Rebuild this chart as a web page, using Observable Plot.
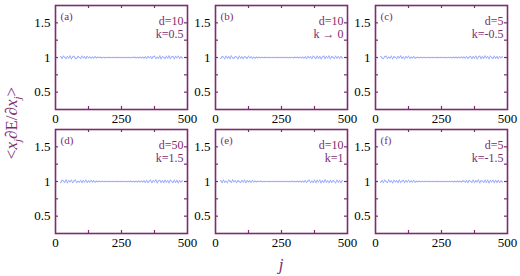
<!DOCTYPE html>
<html><head><meta charset="utf-8">
<script src="https://cdn.jsdelivr.net/npm/d3@7"></script>
<script src="https://cdn.jsdelivr.net/npm/@observablehq/plot@0.6"></script>
<style>body{margin:0;background:#fff} svg text, svg tspan {font-family: 'Liberation Serif' !important;}</style>
</head><body><div id="chart"></div>
<script>
const jValues = [20,25,30,35,40,45,50,55,60,65,70,75,80,85,90,95,100,105,110,115,120,125,130,135,140,145,150,155,160,165,170,175,180,185,190,195,200,205,210,215,220,225,230,235,240,245,250,255,260,265,270,275,280,285,290,295,300,305,310,315,320,325,330,335,340,345,350,355,360,365,370,375,380,385,390,395,400,405,410,415,420,425,430,435,440,445,450,455,460,465,470,475,480];
const panelLetters = ["(a)","(b)","(c)","(d)","(e)","(f)"];
const dLabels = ["d=10","d=10","d=5","d=50","d=10","d=5"];
const kLabels = ["k=0.5","k \u2192 0","k=-0.5","k=1.5","k=1","k=-1.5"];
const panelCols = [0,1,2,0,1,2];
const panelRows = [0,0,0,1,1,1];
const seriesA = [1.012,0.988,1.019,1.004,0.985,1.016,0.993,1.021,0.982,1.008,1.017,0.990,0.984,1.014,1.002,0.987,1.020,0.995,1.011,0.986,1.015,0.998,1.009,0.991,1.006,0.994,1.010,
  0.997,1.004,0.999,1.003,0.996,1.002,1.000,0.998,1.002,0.999,1.001,1.000,0.999,1.001,1.000,1.000,0.999,1.001,1.000,0.999,1.000,1.001,1.000,0.999,1.001,1.000,0.998,1.002,0.999,1.003,0.997,1.002,0.996,1.004,0.995,1.005,
  0.993,1.008,0.990,1.012,0.996,1.015,0.986,1.011,1.019,0.984,1.006,0.989,1.021,0.983,1.013,1.002,0.987,1.018,0.992,1.022,0.985,1.009,1.016,0.981,1.014,0.997,1.020,0.988,1.010,0.994];
const seriesB = [0.987,1.015,1.003,0.983,1.019,0.991,1.010,0.985,1.021,0.996,0.988,1.013,1.006,0.982,1.017,0.993,1.009,0.986,1.014,1.001,0.990,1.018,0.995,1.007,0.989,1.004,0.992,
  1.004,0.997,1.003,0.998,1.002,0.999,1.001,1.000,0.999,1.001,1.000,0.999,1.000,1.001,1.000,0.999,1.000,1.001,0.999,1.000,1.001,0.999,1.000,1.002,0.998,1.001,0.999,1.002,0.997,1.003,0.998,1.004,0.996,1.003,0.995,1.006,
  0.992,1.009,0.988,1.014,0.997,1.011,0.984,1.017,1.003,0.986,1.020,0.990,1.012,0.983,1.008,1.019,0.985,1.015,0.994,1.021,0.982,1.010,1.005,0.987,1.018,0.991,1.013,0.984,1.016,0.993];
const seriesC = [1.016,0.991,0.984,1.012,1.020,0.987,1.005,0.993,1.018,0.983,1.011,1.002,0.986,1.015,0.994,1.021,0.988,1.008,0.982,1.013,0.997,1.017,0.990,1.006,0.995,1.010,0.993,
  0.998,1.003,0.996,1.002,1.000,0.999,1.002,0.998,1.001,1.000,0.999,1.000,1.001,0.999,1.000,1.000,1.001,0.999,1.000,1.001,0.999,1.000,1.001,0.998,1.002,0.999,1.001,0.997,1.003,0.998,1.004,0.996,1.005,0.997,1.006,0.994,
  1.009,0.991,1.013,0.988,1.004,1.016,0.985,1.011,0.993,1.020,0.983,1.007,1.018,0.986,1.014,0.989,1.022,0.995,1.010,0.982,1.017,1.001,0.987,1.019,0.990,1.012,0.984,1.015,0.996,1.008];
const seriesD = [0.985,1.019,1.006,0.988,1.022,0.983,1.012,0.996,1.017,0.986,1.009,1.020,0.984,1.003,0.991,1.016,0.987,1.013,0.994,1.018,0.989,1.007,0.992,1.014,0.996,1.008,0.993,
  1.005,0.996,1.003,0.998,1.002,0.999,1.001,1.000,0.999,1.001,1.000,0.999,1.001,1.000,0.999,1.000,1.001,1.000,0.999,1.001,1.000,0.999,1.002,0.998,1.001,0.999,1.003,0.997,1.002,0.996,1.004,0.995,1.006,0.997,1.005,0.994,
  1.010,0.990,1.014,0.987,1.006,1.018,0.984,1.012,0.995,1.021,0.982,1.008,1.016,0.988,1.013,0.985,1.020,0.993,1.011,0.983,1.019,1.002,0.986,1.017,0.989,1.015,0.983,1.012,0.992,1.009];
const seriesE = [1.011,0.986,1.020,0.992,1.004,0.983,1.017,1.008,0.988,1.021,0.995,1.013,0.984,1.010,1.001,0.987,1.016,0.991,1.019,0.985,1.012,0.996,1.008,0.990,1.014,0.994,1.006,
  0.996,1.004,0.998,1.003,0.999,1.001,0.998,1.002,1.000,0.999,1.001,1.000,0.999,1.000,1.001,0.999,1.000,1.001,1.000,0.999,1.000,1.001,0.999,1.002,0.998,1.001,0.999,1.003,0.997,1.002,0.996,1.004,0.995,1.003,0.994,1.006,
  0.991,1.012,0.987,1.009,1.017,0.984,1.003,0.990,1.020,0.985,1.014,0.996,1.019,0.982,1.011,0.988,1.022,0.993,1.007,0.984,1.016,0.989,1.013,1.000,0.983,1.018,0.992,1.010,0.986,1.012];
const seriesF = [0.990,1.014,0.984,1.018,1.002,0.987,1.021,0.993,1.009,0.983,1.016,0.997,1.011,0.985,1.019,0.989,1.006,1.015,0.986,1.012,0.994,1.017,0.991,1.008,0.995,1.011,0.992,
  1.003,0.997,1.004,0.998,1.001,1.000,0.999,1.002,0.999,1.000,1.001,0.999,1.000,1.000,1.001,0.999,1.001,1.000,0.999,1.000,1.001,0.999,1.000,1.001,0.998,1.002,0.999,1.001,0.997,1.003,0.997,1.004,0.996,1.005,0.995,1.004,
  1.008,0.992,1.011,0.986,1.015,1.002,0.988,1.019,0.984,1.010,0.994,1.021,0.983,1.013,1.005,0.987,1.017,0.990,1.020,0.982,1.012,0.997,1.018,0.985,1.014,0.989,1.016,0.984,1.009,0.993];
const xTickLabels = [0,250,500];
const xTickMarks = [125,250,375];
const yTickLabels = [0.5,1,1.5];
const yTickMarks = [0.5,0.75,1,1.25,1.5];

const allSeries = [seriesA,seriesB,seriesC,seriesD,seriesE,seriesF];
const panels = panelLetters.map((letter,i) => ({
  panel: i, letter, col: panelCols[i], row: panelRows[i],
  dk: dLabels[i] + "\n" + kLabels[i]
}));
const points = panels.flatMap(p => allSeries[p.panel].map((v,idx) => ({
  panel: p.panel, col: p.col, row: p.row, j: jValues[idx], v
})));

const maroon = "#7d2c6e";
const fw = 132, fh = 104;
const font = "Liberation Serif";

const plot = Plot.plot({
  width: 520, height: 276,
  marginLeft: 55, marginRight: 13, marginTop: 5, marginBottom: 43,
  style: "font-family: 'Liberation Serif'; font-size: 13px; color: black; background: white; overflow: visible;",
  x: {domain: [0,500]},
  y: {domain: [0.25,1.75]},
  fx: {domain: [0,1,2], axis: null, paddingInner: 0.175, paddingOuter: 0, round: false},
  fy: {domain: [0,1], axis: null, paddingInner: 20/124, paddingOuter: 0, round: false},
  marks: [
    Plot.line(points, {x: "j", y: "v", z: "panel", fx: "col", fy: "row", stroke: "#6473ff", strokeWidth: 0.6}),
    Plot.dot(points, {x: "j", y: "v", fx: "col", fy: "row", r: 0.7, fill: "#a3adff", stroke: null}),
    Plot.tickX(xTickMarks, {x: d => d, insetTop: fh - 3, stroke: maroon, strokeWidth: 1.2}),
    Plot.tickX(xTickMarks, {x: d => d, insetBottom: fh - 3, stroke: maroon, strokeWidth: 1.2}),
    Plot.tickY(yTickMarks, {y: d => d, insetRight: fw - 3, stroke: maroon, strokeWidth: 1.2}),
    Plot.tickY(yTickMarks, {y: d => d, insetLeft: fw - 3, stroke: maroon, strokeWidth: 1.2}),
    Plot.axisX({ticks: xTickLabels, tickSize: 0, tickPadding: 4, label: null, facetAnchor: null, fontFamily: font, fontSize: 13}),
    Plot.axisY({ticks: yTickLabels, tickSize: 0, tickPadding: 5, label: null, facetAnchor: null, tickFormat: d => String(d), fontFamily: font, fontSize: 13}),
    Plot.frame({stroke: maroon, strokeWidth: 1.6}),
    Plot.text(panels, {fx: "col", fy: "row", text: "letter", frameAnchor: "top-left", dx: 5, dy: 7, lineAnchor: "top", fill: maroon, fontSize: 11, fontFamily: font}),
    Plot.text(panels, {fx: "col", fy: "row", text: "dk", frameAnchor: "top-right", textAnchor: "end", dx: -4, dy: 10, lineAnchor: "top", lineHeight: 1.1, fill: maroon, fontSize: 12, fontFamily: font})
  ]
});

const svg = d3.select(plot);
const t = svg.append("text")
  .attr("transform", "translate(17,123) rotate(-90)")
  .attr("text-anchor", "middle")
  .attr("fill", maroon)
  .attr("font-family", font)
  .attr("font-size", 17);
t.append("tspan").text("<");
t.append("tspan").attr("font-style", "italic").text("x");
t.append("tspan").attr("font-style", "italic").attr("font-size", 11).attr("dy", 4).text("j");
t.append("tspan").attr("dy", -4).text("\u2202E/\u2202");
t.append("tspan").attr("font-style", "italic").text("x");
t.append("tspan").attr("font-style", "italic").attr("font-size", 11).attr("dy", 4).text("j");
t.append("tspan").attr("dy", -4).text(">");

svg.append("text")
  .attr("x", 281).attr("y", 270)
  .attr("text-anchor", "middle")
  .attr("fill", maroon)
  .attr("font-family", font)
  .attr("font-style", "italic")
  .attr("font-size", 17)
  .text("j");

document.getElementById("chart").appendChild(plot);
</script>
</body></html>
